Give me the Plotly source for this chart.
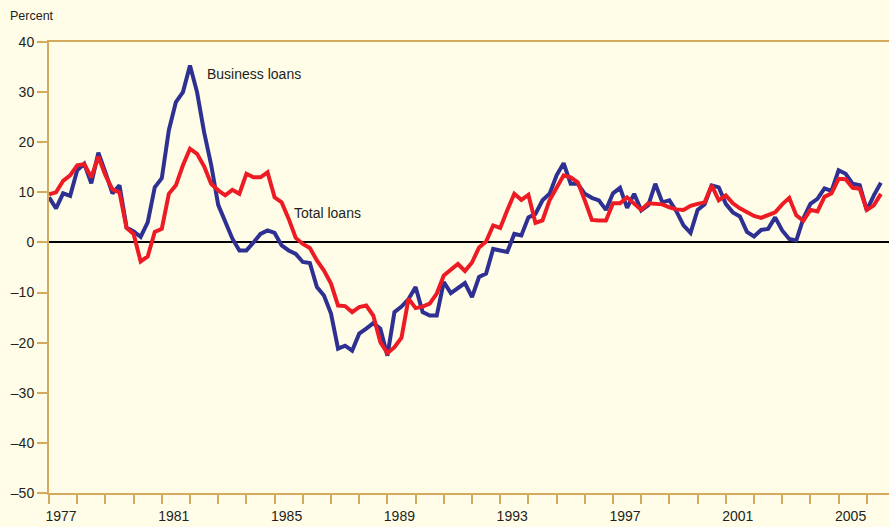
import plotly.graph_objects as go

# Quarterly growth rates (percent), 1977Q1 onward
business_loans = [
    9.0, 6.8, 9.8, 9.3, 14.4, 15.7, 11.8, 17.9, 14.0, 9.8,
    11.4, 3.0, 2.2, 1.1, 4.0, 11.0, 12.8, 22.4, 28.0, 30.0,
    35.3, 30.0, 22.0, 15.5, 7.5, 4.0, 0.8, -1.6, -1.6, 0.0,
    1.7, 2.4, 1.9, -0.6, -1.6, -2.3, -3.9, -4.1, -8.9, -10.6,
    -14.2, -21.2, -20.6, -21.6, -18.2, -17.2, -16.1, -17.2, -22.6, -13.9,
    -12.8, -11.3, -8.9, -13.9, -14.6, -14.6, -7.9, -10.1, -9.0, -8.1,
    -10.9, -6.9, -6.2, -1.3, -1.6, -1.9, 1.7, 1.4, 5.0, 5.7,
    8.4, 9.7, 13.4, 15.8, 11.7, 11.7, 9.7, 8.9, 8.4, 6.5,
    9.8, 10.9, 6.9, 9.7, 6.4, 7.4, 11.7, 8.0, 8.4, 6.2,
    3.4, 1.9, 6.5, 7.6, 11.4, 11.0, 7.7, 6.0, 5.2, 2.1,
    1.2, 2.5, 2.7, 5.0, 2.4, 0.7, 0.4, 4.8, 7.7, 8.7,
    10.8, 10.3, 14.4, 13.7, 11.7, 11.4, 6.4, 9.4, 11.9,
]

total_loans = [
    9.6, 10.0, 12.3, 13.4, 15.4, 15.6, 13.0, 17.1, 13.4, 10.6,
    10.0, 2.9, 1.7, -3.8, -2.8, 2.1, 2.7, 9.7, 11.4, 15.4,
    18.7, 17.7, 15.2, 11.7, 10.4, 9.4, 10.5, 9.7, 13.7, 13.0,
    13.0, 14.0, 9.0, 8.0, 4.7, 0.9, -0.3, -1.1, -3.6, -5.6,
    -8.2, -12.6, -12.7, -13.9, -12.9, -12.6, -14.6, -19.9, -22.1, -20.9,
    -19.0, -11.2, -13.1, -12.8, -12.2, -10.2, -6.6, -5.4, -4.3, -5.7,
    -4.0, -1.0, 0.2, 3.4, 2.9, 6.4, 9.7, 8.5, 9.5, 3.9,
    4.4, 8.4, 11.0, 13.4, 13.0, 12.0, 8.4, 4.5, 4.4, 4.4,
    7.8, 7.8, 9.0, 7.7, 6.5, 7.8, 7.6, 7.6, 7.0, 6.6,
    6.5, 7.3, 7.7, 8.0, 11.4, 8.4, 9.4, 7.8, 6.8, 6.1,
    5.3, 4.9, 5.4, 6.0, 7.6, 8.9, 5.4, 4.3, 6.5, 6.2,
    9.1, 9.8, 12.7, 12.6, 10.9, 10.7, 6.5, 7.4, 9.7,
]

start_year = 1977
quarters = [start_year + i / 4 for i in range(len(business_loans))]

year_ticks = list(range(1977, 2007))
labeled_years = [1977, 1981, 1985, 1989, 1993, 1997, 2001, 2005]
year_text = [str(y) if y in labeled_years else "" for y in year_ticks]

y_ticks = [40, 30, 20, 10, 0, -10, -20, -30, -40, -50]
y_text = [str(v) if v >= 0 else "\u2013" + str(-v) for v in y_ticks]

BG = "#FFFDE8"
AXIS = "#D4AA5E"
TEXT = "#231F20"
FONT = "Liberation Sans, Arial, sans-serif"

fig = go.Figure()
fig.add_trace(go.Scatter(x=quarters, y=business_loans, mode="lines",
                         line=dict(color="#2E3192", width=4), name="Business loans"))
fig.add_trace(go.Scatter(x=quarters, y=total_loans, mode="lines",
                         line=dict(color="#ED1C24", width=4), name="Total loans"))

fig.update_layout(
    width=889, height=527,
    margin=dict(l=49, r=0, t=42, b=34, autoexpand=False),
    paper_bgcolor=BG, plot_bgcolor=BG,
    showlegend=False,
    font=dict(family=FONT, size=14, color=TEXT),
    annotations=[
        dict(text="Business loans", x=1982.53, y=33.7, xref="x", yref="y",
             xanchor="left", yanchor="middle", showarrow=False,
             font=dict(size=14, color=TEXT)),
        dict(text="Total loans", x=1985.62, y=5.8, xref="x", yref="y",
             xanchor="left", yanchor="middle", showarrow=False,
             font=dict(size=14, color=TEXT)),
        dict(text="Percent", x=-41 / 840, y=1 + 26 / 451, xref="paper", yref="paper",
             xanchor="left", yanchor="middle", showarrow=False,
             font=dict(size=12.5, color=TEXT)),
    ],
)

fig.update_xaxes(
    range=[1977, 1977 + 840 / 28.2],
    automargin=False,
    tickmode="array", tickvals=year_ticks, ticktext=year_text,
    ticks="outside", ticklen=9, tickwidth=2, tickcolor=AXIS,
    ticklabelshift=12,
    showline=True, linecolor=AXIS, linewidth=2, mirror=True,
    showgrid=False, zeroline=False,
    tickfont=dict(size=14, color=TEXT),
)
fig.update_yaxes(
    range=[-50, 40],
    automargin=False,
    tickmode="array", tickvals=y_ticks, ticktext=y_text,
    ticks="outside", ticklen=10, tickwidth=2, tickcolor=AXIS,
    showline=True, linecolor=AXIS, linewidth=2,
    showgrid=False,
    zeroline=True, zerolinecolor="#000000", zerolinewidth=2,
    tickfont=dict(size=14, color=TEXT),
)

fig.write_html(
    "out.html",
    config={"displayModeBar": False},
    post_script="document.body.style.margin='0';document.body.style.background='" + BG + "';",
)
